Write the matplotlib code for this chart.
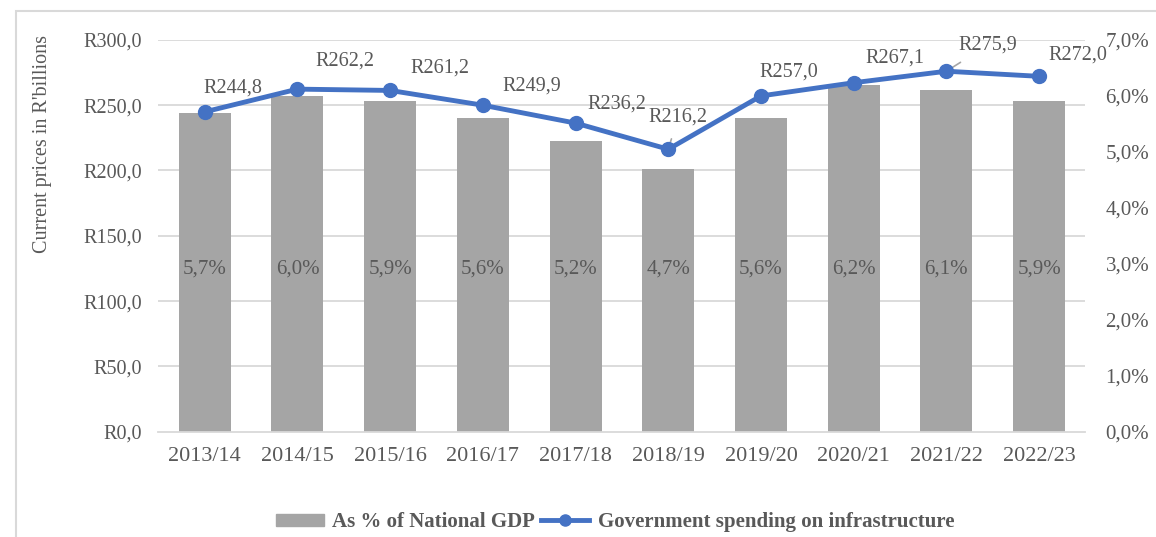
import matplotlib.pyplot as plt
import numpy as np
from matplotlib.patches import Rectangle
from matplotlib.ticker import FuncFormatter

plt.rcParams['font.family'] = ['Liberation Serif', 'DejaVu Serif']

# === Daten ===
years = ["2013/14", "2014/15", "2015/16", "2016/17", "2017/18",
         "2018/19", "2019/20", "2020/21", "2021/22", "2022/23"]
gdp_share = [5.7, 6.0, 5.9, 5.6, 5.2, 4.7, 5.6, 6.2, 6.1, 5.9]
spending = [244.8, 262.2, 261.2, 249.9, 236.2, 216.2, 257.0, 267.1, 275.9, 272.0]

# label offsets in points (dx, dy) and whether a leader line is drawn
label_offsets = [(20, 17), (34, 20), (36, 16), (35, 14), (30, 14),
                 (7, 23), (20, 17), (30, 18), (30, 19), (28, 15)]
leader = [False, False, False, False, False, True, False, False, True, False]

text_col = "#595959"
grid_col = "#d9d9d9"
bar_col = "#a5a5a5"
line_col = "#4472c4"
fs = 14.5

fig = plt.figure(figsize=(11.56, 5.37), dpi=100)
ax = fig.add_axes([0.137, 0.196, 0.802, 0.730])
ax2 = ax.twinx()

x = np.arange(len(years))

# Balken: Anteil am BIP (rechte Achse)
ax2.bar(x, gdp_share, width=0.56, color=bar_col, zorder=2)
for xi, v in zip(x, gdp_share):
    ax2.text(xi, 2.9, f"{v:.1f}%".replace(".", ","), ha="center", va="center",
             fontsize=15, color=text_col)

# Linie: Ausgaben (linke Achse), über den Balken zeichnen
ax.set_zorder(ax2.get_zorder() + 1)
ax.patch.set_visible(False)
ax.plot(x, spending, color=line_col, linewidth=3.5, marker="o", markersize=10,
        zorder=5)

for xi, v, (dx, dy), ld in zip(x, spending, label_offsets, leader):
    ax.annotate(f"R{v:.1f}".replace(".", ","), (xi, v), xytext=(dx, dy),
                textcoords="offset points", ha="center", va="center",
                fontsize=fs, color=text_col,
                arrowprops=dict(arrowstyle="-", color="#a6a6a6", lw=1.2,
                                shrinkA=7, shrinkB=0) if ld else None)

ax.set_ylim(0, 300)
ax.set_yticks(np.arange(0, 301, 50))
ax.yaxis.set_major_formatter(FuncFormatter(lambda v, p: f"R{v:.1f}".replace(".", ",")))
ax2.set_ylim(0, 7)
ax2.set_yticks(np.arange(0, 7.1, 1))
ax2.yaxis.set_major_formatter(FuncFormatter(lambda v, p: f"{v:.1f}%".replace(".", ",")))

ax.set_xlim(-0.5, len(years) - 0.5)
ax.set_xticks(x)
ax.set_xticklabels(years)

ax2.grid(False)
ax.grid(False)
for yv in np.arange(50, 301, 50):
    ax2.axhline(yv / 300 * 7, color=grid_col, linewidth=1.3, zorder=0)

for a in (ax, ax2):
    for s in a.spines.values():
        s.set_visible(False)
    a.tick_params(axis="both", length=0, labelsize=fs, labelcolor=text_col)
ax2.spines["bottom"].set_visible(True)
ax2.spines["bottom"].set_color(grid_col)
ax2.spines["bottom"].set_linewidth(1.3)
ax2.tick_params(axis="y", labelsize=15, pad=14.5)
ax.tick_params(axis="y", pad=11.5)
ax.tick_params(axis="x", labelsize=16, pad=11)

ax.set_ylabel("Current prices in R'billions", fontsize=fs, color=text_col)
ax.yaxis.set_label_coords(-0.115, 0.735)

# Legende
handles = [
    Rectangle((0, 0), 1, 1, color=bar_col),
    plt.Line2D([0], [0], color=line_col, linewidth=3.5, marker="o", markersize=8),
]
fig.legend(handles, ["As % of National GDP", "Government spending on infrastructure"],
           loc="center", bbox_to_anchor=(0.532, 0.028), ncol=2, frameon=False,
           prop={"size": 15, "weight": "bold"}, labelcolor=text_col,
           handlelength=2.3, handleheight=0.5, columnspacing=0.3, handletextpad=0.4)

# Rahmen
fig.patches.append(Rectangle((16 / 1156, -0.1), 1.2, 1 - 11 / 537 + 0.1,
                             transform=fig.transFigure, fill=False,
                             edgecolor=grid_col, linewidth=1.5))

fig.savefig("out.png", dpi=100)
